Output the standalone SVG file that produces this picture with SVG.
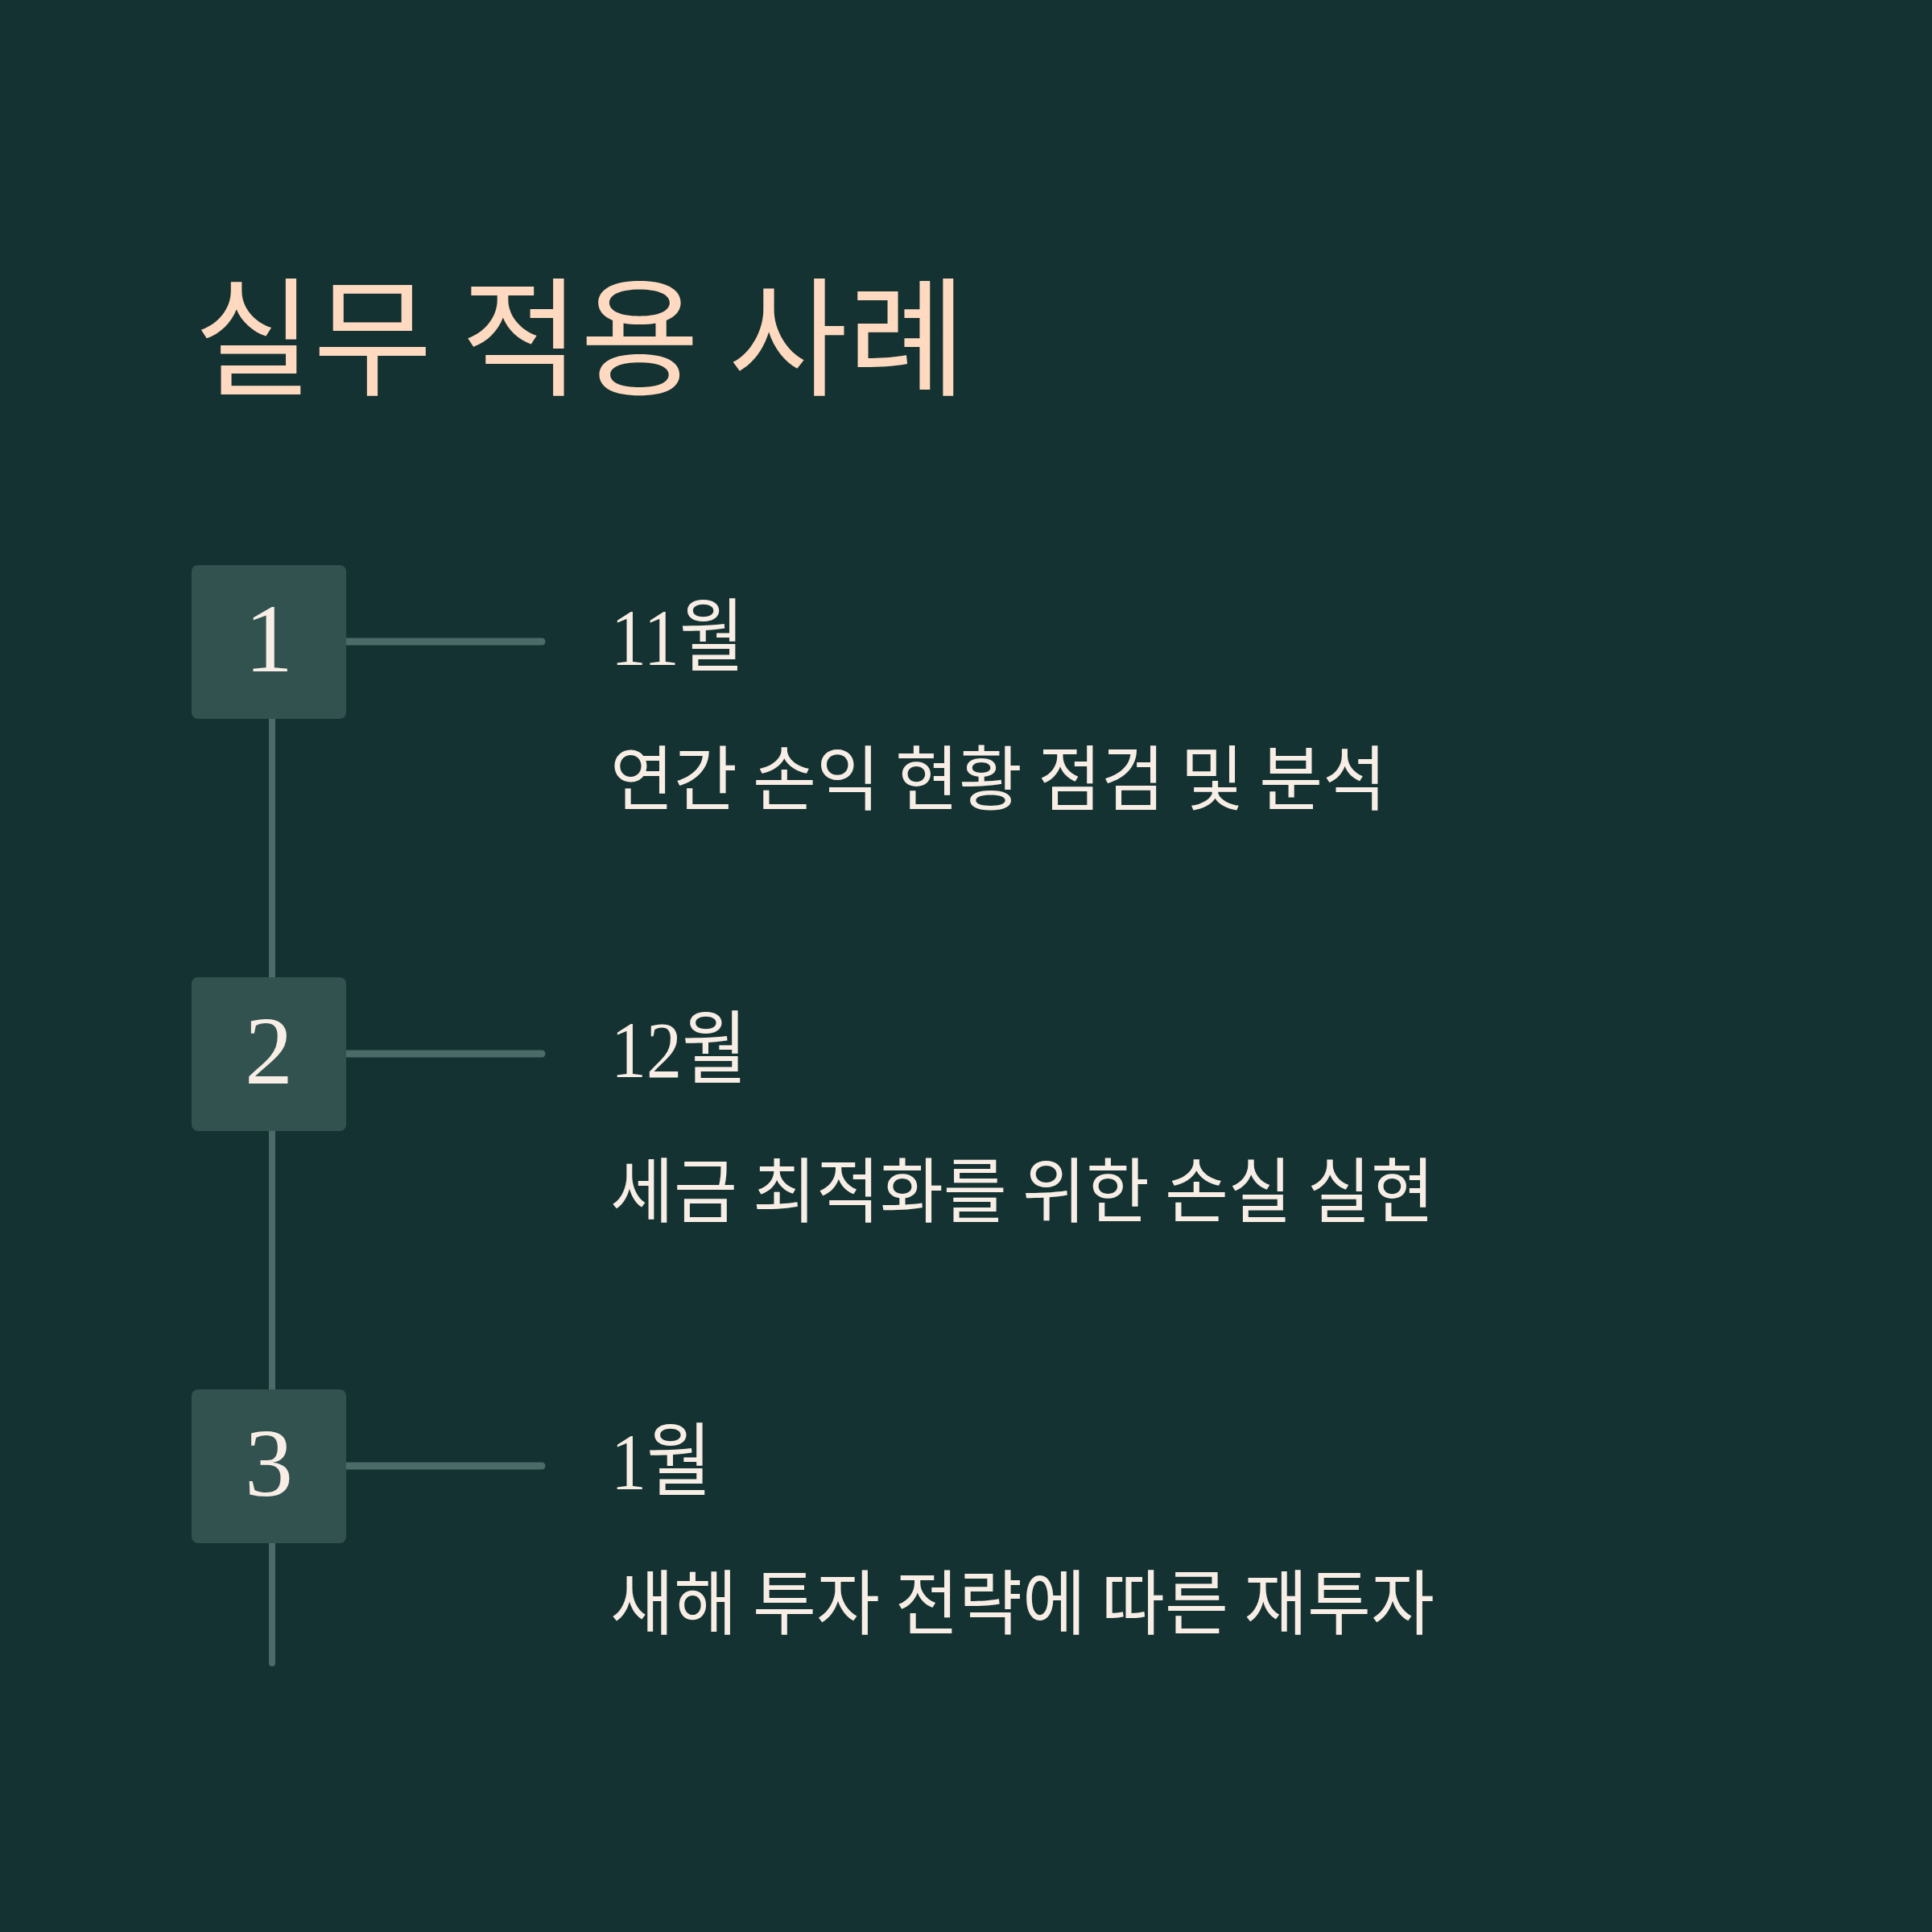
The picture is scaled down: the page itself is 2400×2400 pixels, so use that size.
<svg xmlns="http://www.w3.org/2000/svg" width="2400" height="2400" viewBox="0 0 2400 2400">
<style>
.bg{fill:#143231}
.box{fill:#325250}
.conn{stroke:#4B6B69;stroke-linecap:round;fill:none}
.title{font-family:"Noto Sans CJK KR","Noto Sans",sans-serif;fill:#FFDAC0;font-size:160px}
.num{font-family:"Liberation Serif","Noto Sans CJK KR",serif;fill:#F8EEE6;font-size:120px;text-anchor:middle}
.month{font-family:"Liberation Serif","Noto Sans CJK KR",serif;fill:#F8EEE6;font-size:100px}
.desc{font-family:"Noto Sans CJK KR","Noto Sans",sans-serif;fill:#F8EEE6;font-size:88px}
</style>
<rect class="bg" x="0" y="0" width="2400" height="2400"/>
<text class="title" transform="translate(241,479) scale(1.005,1)">실무 적용 사례</text>
<g id="connectors">
<line class="conn" x1="338" y1="800" x2="338" y2="2066" stroke-width="8"/>
<line class="conn" x1="430" y1="797" x2="673" y2="797" stroke-width="9"/>
<line class="conn" x1="430" y1="1309" x2="673" y2="1309" stroke-width="9"/>
<line class="conn" x1="430" y1="1821" x2="673" y2="1821" stroke-width="9"/>
</g>
<g id="step1">
<rect class="box" x="238" y="702" width="192" height="191" rx="8"/>
<text class="num" x="334" y="834">1</text>
<text class="month" transform="translate(759,826) scale(0.88,1)">11월</text>
<text class="desc" transform="translate(758,999) scale(0.975,1)">연간 손익 현황 점검 및 분석</text>
</g>
<g id="step2">
<rect class="box" x="238" y="1214" width="192" height="191" rx="8"/>
<text class="num" x="334" y="1346">2</text>
<text class="month" transform="translate(759,1338) scale(0.88,1)">12월</text>
<text class="desc" transform="translate(758,1511) scale(0.975,1)">세금 최적화를 위한 손실 실현</text>
</g>
<g id="step3">
<rect class="box" x="238" y="1726" width="192" height="191" rx="8"/>
<text class="num" x="334" y="1858">3</text>
<text class="month" transform="translate(759,1850) scale(0.88,1)">1월</text>
<text class="desc" transform="translate(758,2023) scale(0.975,1)">새해 투자 전략에 따른 재투자</text>
</g>
</svg>
